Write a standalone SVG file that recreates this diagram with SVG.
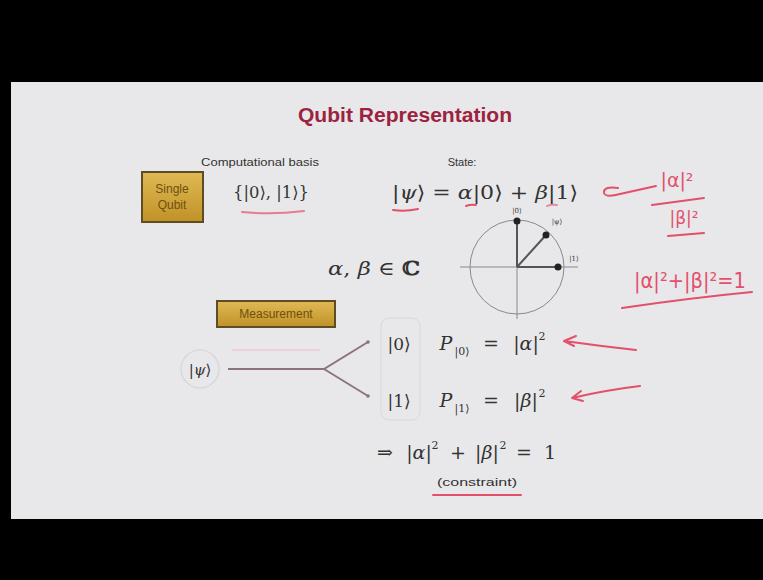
<svg xmlns="http://www.w3.org/2000/svg" width="763" height="580" viewBox="0 0 763 580">
<defs>
<linearGradient id="gold" x1="0" y1="0" x2="0" y2="1">
<stop offset="0" stop-color="#e0b955"/>
<stop offset="1" stop-color="#c09228"/>
</linearGradient>
<style>
.sans{font-family:"Liberation Sans","DejaVu Sans",sans-serif;}
.math{font-family:"DejaVu Serif","Liberation Serif",serif;fill:#333;}
.m{font-family:"DejaVu Serif","Liberation Serif",serif;fill:#333;font-size:19px;text-anchor:middle;}
.sup{font-family:"DejaVu Serif","Liberation Serif",serif;fill:#333;font-size:11px;text-anchor:middle;}
.it{font-style:italic;}
.lbl{font-family:"Liberation Sans",sans-serif;font-size:11px;fill:#333;}
.box{fill:url(#gold);stroke:#5e4c22;stroke-width:2;}
.boxt{font-family:"Liberation Sans",sans-serif;font-size:12px;fill:#6e500c;}
.red{fill:none;stroke:#e2506c;stroke-width:2;stroke-linecap:round;stroke-linejoin:round;}
.redt{font-family:"DejaVu Sans",sans-serif;fill:#e2506c;}
.conn{fill:none;stroke:#8c7282;stroke-width:2;}
.axis{stroke:#8a8a8a;stroke-width:1;fill:none;}
.vec{stroke:#555;stroke-width:2;}
</style>
</defs>
<rect x="0" y="0" width="763" height="580" fill="#000"/>
<rect x="11" y="82" width="752" height="437" fill="#e8e8ea"/>

<g id="title">
<text x="405" y="122" text-anchor="middle" class="sans" font-size="20" font-weight="bold" fill="#9c2340" textLength="214" lengthAdjust="spacingAndGlyphs">Qubit Representation</text>
</g>

<g id="single-qubit">
<rect x="142" y="172" width="61" height="50" class="box"/>
<text x="172" y="193" text-anchor="middle" class="boxt">Single</text>
<text x="172" y="209" text-anchor="middle" class="boxt">Qubit</text>
</g>

<g id="basis">
<text x="260" y="166" text-anchor="middle" class="lbl" textLength="118" lengthAdjust="spacingAndGlyphs">Computational basis</text>
<text x="271" y="198" text-anchor="middle" class="math" font-size="16" textLength="76" lengthAdjust="spacingAndGlyphs">{|0⟩, |1⟩}</text>
<path d="M242 212 Q272 215 304 211" class="red" stroke-width="1.2" stroke-opacity="0.7"/>
</g>

<g id="state">
<text x="462" y="166" text-anchor="middle" class="lbl">State:</text>
<text x="392" y="199" class="math" font-size="19" textLength="186" lengthAdjust="spacingAndGlyphs">|<tspan class="it">ψ</tspan>⟩ = <tspan class="it">α</tspan>|0⟩ + <tspan class="it">β</tspan>|1⟩</text>
<path d="M393 210 Q405 212 418 209" class="red"/>
<path d="M466 206 Q471 204 476 205" class="red" stroke-width="1.5"/>
<path d="M547 206 Q552 204 557 205" class="red" stroke-width="1.2" stroke-opacity="0.6"/>
</g>

<g id="complex">
<text x="374" y="275" text-anchor="middle" class="math" font-size="19" textLength="92" lengthAdjust="spacingAndGlyphs"><tspan class="it">α</tspan>, <tspan class="it">β</tspan> ∈ <tspan font-weight="bold">ℂ</tspan></text>
</g>

<g id="circle-diagram">
<circle cx="517" cy="267" r="47" class="axis"/>
<line x1="460" y1="267" x2="578" y2="267" class="axis"/>
<line x1="517" y1="221" x2="517" y2="319" class="axis"/>
<line x1="517" y1="267" x2="517" y2="221" class="vec"/>
<line x1="517" y1="267" x2="546" y2="235" class="vec"/>
<line x1="517" y1="267" x2="558" y2="267" class="vec"/>
<circle cx="517" cy="221" r="3.5" fill="#222"/>
<circle cx="546" cy="235" r="3.5" fill="#222"/>
<circle cx="558" cy="267" r="3.5" fill="#222"/>
<text x="517" y="213" text-anchor="middle" class="math" font-size="7">|0⟩</text>
<text x="557" y="224" text-anchor="middle" class="math" font-size="7">|ψ⟩</text>
<text x="574" y="261" text-anchor="middle" class="math" font-size="7">|1⟩</text>
</g>

<g id="measurement">
<rect x="217" y="301" width="118" height="26" class="box"/>
<text x="276" y="318" text-anchor="middle" class="boxt" font-size="11">Measurement</text>
<path d="M232 350 L320 350" stroke="#f0c8d0" stroke-width="1.5" fill="none"/>
</g>

<g id="psi-input">
<circle cx="200" cy="369" r="19" fill="none" stroke="#d4d4d6" stroke-width="1.2"/>
<text x="200" y="375" text-anchor="middle" class="math" font-size="15">|<tspan class="it">ψ</tspan>⟩</text>
</g>

<g id="connectors">
<path d="M228 369 L324 369 L368 342" class="conn"/>
<path d="M324 369 L368 396" class="conn"/>
<circle cx="368" cy="342" r="1.8" fill="#8c7282"/>
<circle cx="368" cy="396" r="1.8" fill="#8c7282"/>
</g>

<g id="outcomes">
<rect x="381" y="318" width="39" height="102" rx="8" fill="none" stroke="#d8d8da" stroke-width="1"/>
<text x="399" y="350" text-anchor="middle" class="math" font-size="17">|0⟩</text>
<text x="399" y="407" text-anchor="middle" class="math" font-size="17">|1⟩</text>
</g>

<g id="prob0">
<text x="446" y="350" class="m it">P</text>
<text x="462" y="355" class="sup" font-size="10">|0⟩</text>
<text x="491" y="350" class="m">=</text>
<text x="526" y="350" class="m">|<tspan class="it">α</tspan>|</text>
<text x="542" y="340" class="sup">2</text>
</g>

<g id="prob1">
<text x="446" y="407" class="m it">P</text>
<text x="462" y="412" class="sup" font-size="10">|1⟩</text>
<text x="491" y="407" class="m">=</text>
<text x="526" y="407" class="m">|<tspan class="it">β</tspan>|</text>
<text x="542" y="397" class="sup">2</text>
</g>

<g id="normalization">
<text x="385" y="459" class="m">⇒</text>
<text x="419" y="459" class="m">|<tspan class="it">α</tspan>|</text>
<text x="435" y="449" class="sup">2</text>
<text x="458" y="459" class="m">+</text>
<text x="487" y="459" class="m">|<tspan class="it">β</tspan>|</text>
<text x="503" y="449" class="sup">2</text>
<text x="524" y="459" class="m">=</text>
<text x="550" y="459" class="m">1</text>
</g>

<g id="constraint">
<text x="477" y="486" text-anchor="middle" class="lbl" textLength="80" lengthAdjust="spacingAndGlyphs">(constraint)</text>
<path d="M433 495 L521 495" class="red" stroke-width="2.5"/>
</g>

<g id="annotations">
<path d="M618 188 Q603 186 604 193 Q606 198 620 194 L656 186" class="red" stroke-width="1.8"/>
<text x="677" y="187" text-anchor="middle" class="redt" font-size="19">|α|²</text>
<path d="M652 205 L704 198" class="red" stroke-width="1.8"/>
<text x="684" y="224" text-anchor="middle" class="redt" font-size="17">|β|²</text>
<path d="M668 236 L704 233" class="red" stroke-width="1.8"/>
<text x="690" y="288" text-anchor="middle" class="redt" font-size="21" textLength="112" lengthAdjust="spacingAndGlyphs">|α|²+|β|²=1</text>
<path d="M622 308 Q690 298 752 292" class="red" stroke-width="2"/>
<path d="M636 350 Q600 346 564 341 M564 341 L576 336 M564 341 L574 346" class="red"/>
<path d="M640 386 Q606 390 572 398 M572 398 L581 391 M572 398 L583 401" class="red"/>
</g>
</svg>
